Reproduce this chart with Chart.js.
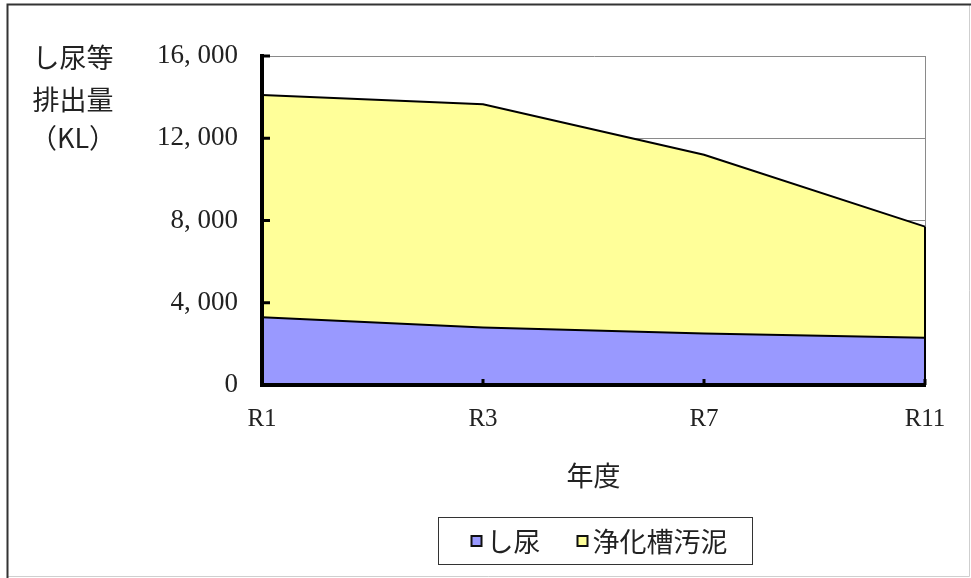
<!DOCTYPE html>
<html lang="ja">
<head>
<meta charset="utf-8">
<title>し尿等排出量</title>
<script src="https://cdn.jsdelivr.net/npm/chart.js@4/dist/chart.umd.min.js"></script>
<style>
  html, body { margin: 0; padding: 0; background: #fff; }
  #wrap { position: relative; width: 971px; height: 578px; }
  canvas { display: block; }
</style>
</head>
<body>
<div id="wrap"><canvas id="chart" width="971" height="578"></canvas></div>
<script>
// 年度
const years = ['R1', 'R3', 'R7', 'R11'];
// し尿 (KL)
const shinyo = [3300, 2800, 2500, 2300];
// 浄化槽汚泥 (KL)
const joukasouOdei = [10800, 10850, 8700, 5400];
// 軸ラベル
const yAxisTitleLines = ['し尿等', '排出量', '（KL）'];
const xAxisTitle = '年度';
const seriesNames = ['し尿', '浄化槽汚泥'];

const SERIF = "'Liberation Serif', 'DejaVu Serif', serif";
const JP = "'Noto Sans CJK JP', sans-serif";
const INK = '#222';

// 外枠と白背景
const framePlugin = {
  id: 'frame',
  beforeDraw(chart) {
    const ctx = chart.ctx;
    ctx.save();
    ctx.fillStyle = '#fff';
    ctx.fillRect(0, 0, chart.width, chart.height);
    ctx.strokeStyle = '#cfcfcf';
    ctx.lineWidth = 1;
    ctx.beginPath();
    ctx.moveTo(8, chart.height - 1.5);
    ctx.lineTo(chart.width - 1.5, chart.height - 1.5);
    ctx.lineTo(chart.width - 1.5, 5);
    ctx.stroke();
    ctx.strokeStyle = '#333';
    ctx.lineWidth = 2;
    ctx.beginPath();
    ctx.moveTo(7.5, chart.height);
    ctx.lineTo(7.5, 4.5);
    ctx.lineTo(chart.width, 4.5);
    ctx.stroke();
    ctx.restore();
  }
};

// 面の右端の縦線、内向きの目盛り、縦軸タイトル、凡例
const decorPlugin = {
  id: 'decor',
  afterDatasetsDraw(chart) {
    const ctx = chart.ctx;
    const top = chart.getDatasetMeta(1).data;
    const last = top[top.length - 1];
    ctx.save();
    ctx.strokeStyle = '#000';
    ctx.lineWidth = 2;
    ctx.beginPath();
    ctx.moveTo(last.x, last.y);
    ctx.lineTo(last.x, chart.chartArea.bottom);
    ctx.stroke();
    ctx.restore();
  },
  afterDraw(chart) {
    const ctx = chart.ctx;
    const area = chart.chartArea;
    const ys = chart.scales.y;
    const xs = chart.scales.x;
    ctx.save();
    ctx.strokeStyle = '#000';
    ctx.lineWidth = 3;
    ctx.beginPath();
    ys.ticks.forEach(t => {
      const py = ys.getPixelForValue(t.value);
      ctx.moveTo(area.left, py);
      ctx.lineTo(area.left + 8, py);
    });
    xs.ticks.forEach((t, i) => {
      const px = xs.getPixelForTick(i);
      ctx.moveTo(px, area.bottom);
      ctx.lineTo(px, area.bottom - 6);
    });
    ctx.stroke();

    // 縦軸タイトル
    ctx.fillStyle = INK;
    ctx.font = '27px ' + JP;
    ctx.textAlign = 'center';
    ctx.textBaseline = 'middle';
    const titleY = [58, 100, 138];
    yAxisTitleLines.forEach((s, i) => ctx.fillText(s, 73, titleY[i]));

    // 凡例
    const ds = chart.data.datasets;
    const boxW = 314, boxH = 47;
    const cx = (area.left + area.right) / 2 + 1;
    const bx = Math.round(cx - boxW / 2) + 0.5;
    const by = 517.5;
    ctx.strokeStyle = '#333';
    ctx.lineWidth = 1;
    ctx.strokeRect(bx, by, boxW, boxH);
    ctx.font = '27px ' + JP;
    ctx.textAlign = 'left';
    const midY = by + boxH / 2;
    let x = bx + 33;
    ds.forEach((d, i) => {
      ctx.fillStyle = d.backgroundColor;
      ctx.fillRect(x, midY - 5, 10, 10);
      ctx.strokeStyle = '#111';
      ctx.lineWidth = 2;
      ctx.strokeRect(x, midY - 5, 10, 10);
      ctx.fillStyle = INK;
      ctx.fillText(d.label, x + 15, midY + 1);
      x += 15 + ctx.measureText(d.label).width + 37;
    });
    ctx.restore();
  }
};

new Chart(document.getElementById('chart'), {
  type: 'line',
  data: {
    labels: years,
    datasets: [
      {
        label: seriesNames[0],
        data: shinyo,
        backgroundColor: '#9999ff',
        borderColor: '#000',
        borderWidth: 2,
        fill: 'origin',
        pointRadius: 0,
        tension: 0
      },
      {
        label: seriesNames[1],
        data: joukasouOdei,
        backgroundColor: '#ffff99',
        borderColor: '#000',
        borderWidth: 2,
        fill: '-1',
        pointRadius: 0,
        tension: 0
      }
    ]
  },
  options: {
    responsive: false,
    animation: false,
    devicePixelRatio: 1,
    layout: { padding: { left: 0, right: 46, top: 56, bottom: 0 } },
    plugins: {
      legend: { display: false },
      tooltip: { enabled: false },
      filler: { propagate: false }
    },
    scales: {
      x: {
        offset: false,
        afterFit(scale) { scale.height = 578 - 385; },
        grid: {
          drawTicks: false,
          color: ctx => ctx.index === years.length - 1 ? '#8a8a8a' : 'rgba(0,0,0,0)',
          lineWidth: 1
        },
        border: { display: true, color: '#000', width: 4, z: 1 },
        ticks: {
          color: INK,
          font: { family: SERIF, size: 25 },
          padding: 19,
          maxRotation: 0,
          autoSkip: false
        },
        title: {
          display: true,
          text: xAxisTitle,
          color: INK,
          font: { family: JP, size: 27, lineHeight: 1.2 },
          padding: { top: 0, bottom: 86 }
        }
      },
      y: {
        stacked: true,
        min: 0,
        max: 16000,
        afterFit(scale) { scale.width = 262; },
        grid: { drawTicks: false, color: '#8a8a8a', lineWidth: 1 },
        border: { display: true, color: '#000', width: 4, z: 1 },
        ticks: {
          stepSize: 4000,
          color: INK,
          padding: 24,
          font: { family: SERIF, size: 27 },
          callback: v => v.toLocaleString('en-US').replace(',', ', ')
        }
      }
    }
  },
  plugins: [framePlugin, decorPlugin]
});
</script>
</body>
</html>
